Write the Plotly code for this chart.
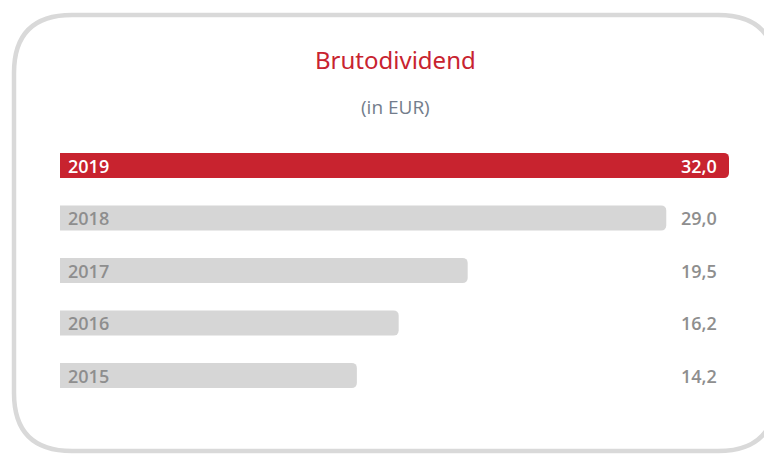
import plotly.graph_objects as go

# ---- data ----
years = ["2015", "2016", "2017", "2018", "2019"]
dividend = [14.2, 16.2, 19.5, 29.0, 32.0]
value_labels = ["14,2", "16,2", "19,5", "29,0", "32,0"]
title_text = "Brutodividend"
subtitle_text = "(in EUR)"

RED = "#c8232f"
GRAY_BAR = "#d6d6d6"
GRAY_TXT = "#8e8e8e"
W, H = 764, 456

highlight = [y == "2019" for y in years]
bar_colors = [RED if h else GRAY_BAR for h in highlight]

def px(x): return x / W
def py(y): return 1 - y / H

fig = go.Figure()
fig.add_trace(go.Bar(
    x=dividend, y=years, orientation="h",
    marker=dict(color=bar_colors, line=dict(width=0)),
    width=0.48, hoverinfo="skip", showlegend=False,
))

annotations = []
for i, (y, v, lab, h) in enumerate(zip(years, dividend, value_labels, highlight)):
    col = "white" if h else GRAY_TXT
    annotations.append(dict(
        x=0, y=i, xref="x", yref="y", text=y, showarrow=False,
        xanchor="left", yanchor="middle", xshift=6,
        font=dict(family="Open Sans", size=18, color=col, weight=600),
    ))
    annotations.append(dict(
        x=max(dividend), y=i, xref="x", yref="y", text=lab, showarrow=False,
        xanchor="right", yanchor="middle", xshift=-10,
        font=dict(family="Open Sans", size=18, color=col, weight=600),
    ))

annotations.append(dict(
    x=px(395), y=py(59), xref="paper", yref="paper", text=title_text,
    showarrow=False, xanchor="center", yanchor="middle",
    font=dict(family="Noto Sans", size=24, color=RED, weight=400),
))
annotations.append(dict(
    x=px(395), y=py(107), xref="paper", yref="paper", text=subtitle_text,
    showarrow=False, xanchor="center", yanchor="middle",
    font=dict(family="Open Sans", size=19, color="#737d8c"),
))

# rounded frame (paper coords with zero margins); right side lies off-canvas
x0, x1, y0, y1, r = 14, 776, 15, 451, 58
path = (
    f"M {px(x0 + r)} {py(y0)} L {px(x1 - r)} {py(y0)} "
    f"Q {px(x1)} {py(y0)} {px(x1)} {py(y0 + r)} "
    f"M {px(x1)} {py(y1 - r)} Q {px(x1)} {py(y1)} {px(x1 - r)} {py(y1)} "
    f"L {px(x0 + r)} {py(y1)} Q {px(x0)} {py(y1)} {px(x0)} {py(y1 - r)} "
    f"L {px(x0)} {py(y0 + r)} Q {px(x0)} {py(y0)} {px(x0 + r)} {py(y0)}"
)

fig.update_layout(
    width=W, height=H,
    margin=dict(l=0, r=0, t=0, b=0),
    paper_bgcolor="white", plot_bgcolor="white",
    barcornerradius=5,
    xaxis=dict(range=[0, 32], domain=[px(60), px(729)], visible=False, fixedrange=True),
    yaxis=dict(type="category", categoryorder="array", categoryarray=years,
               range=[-0.5, 4.5], domain=[py(401.75), py(139.25)],
               visible=False, fixedrange=True),
    annotations=annotations,
    shapes=[
        dict(type="path", path=path, xref="paper", yref="paper",
             line=dict(color="#d9d9d9", width=4.5), layer="below"),
    ],
)

fig.write_html(
    "out.html",
    config={"displayModeBar": False},
    post_script="document.documentElement.style.overflow='hidden';document.body.style.margin='0';document.body.style.overflow='hidden';",
)
